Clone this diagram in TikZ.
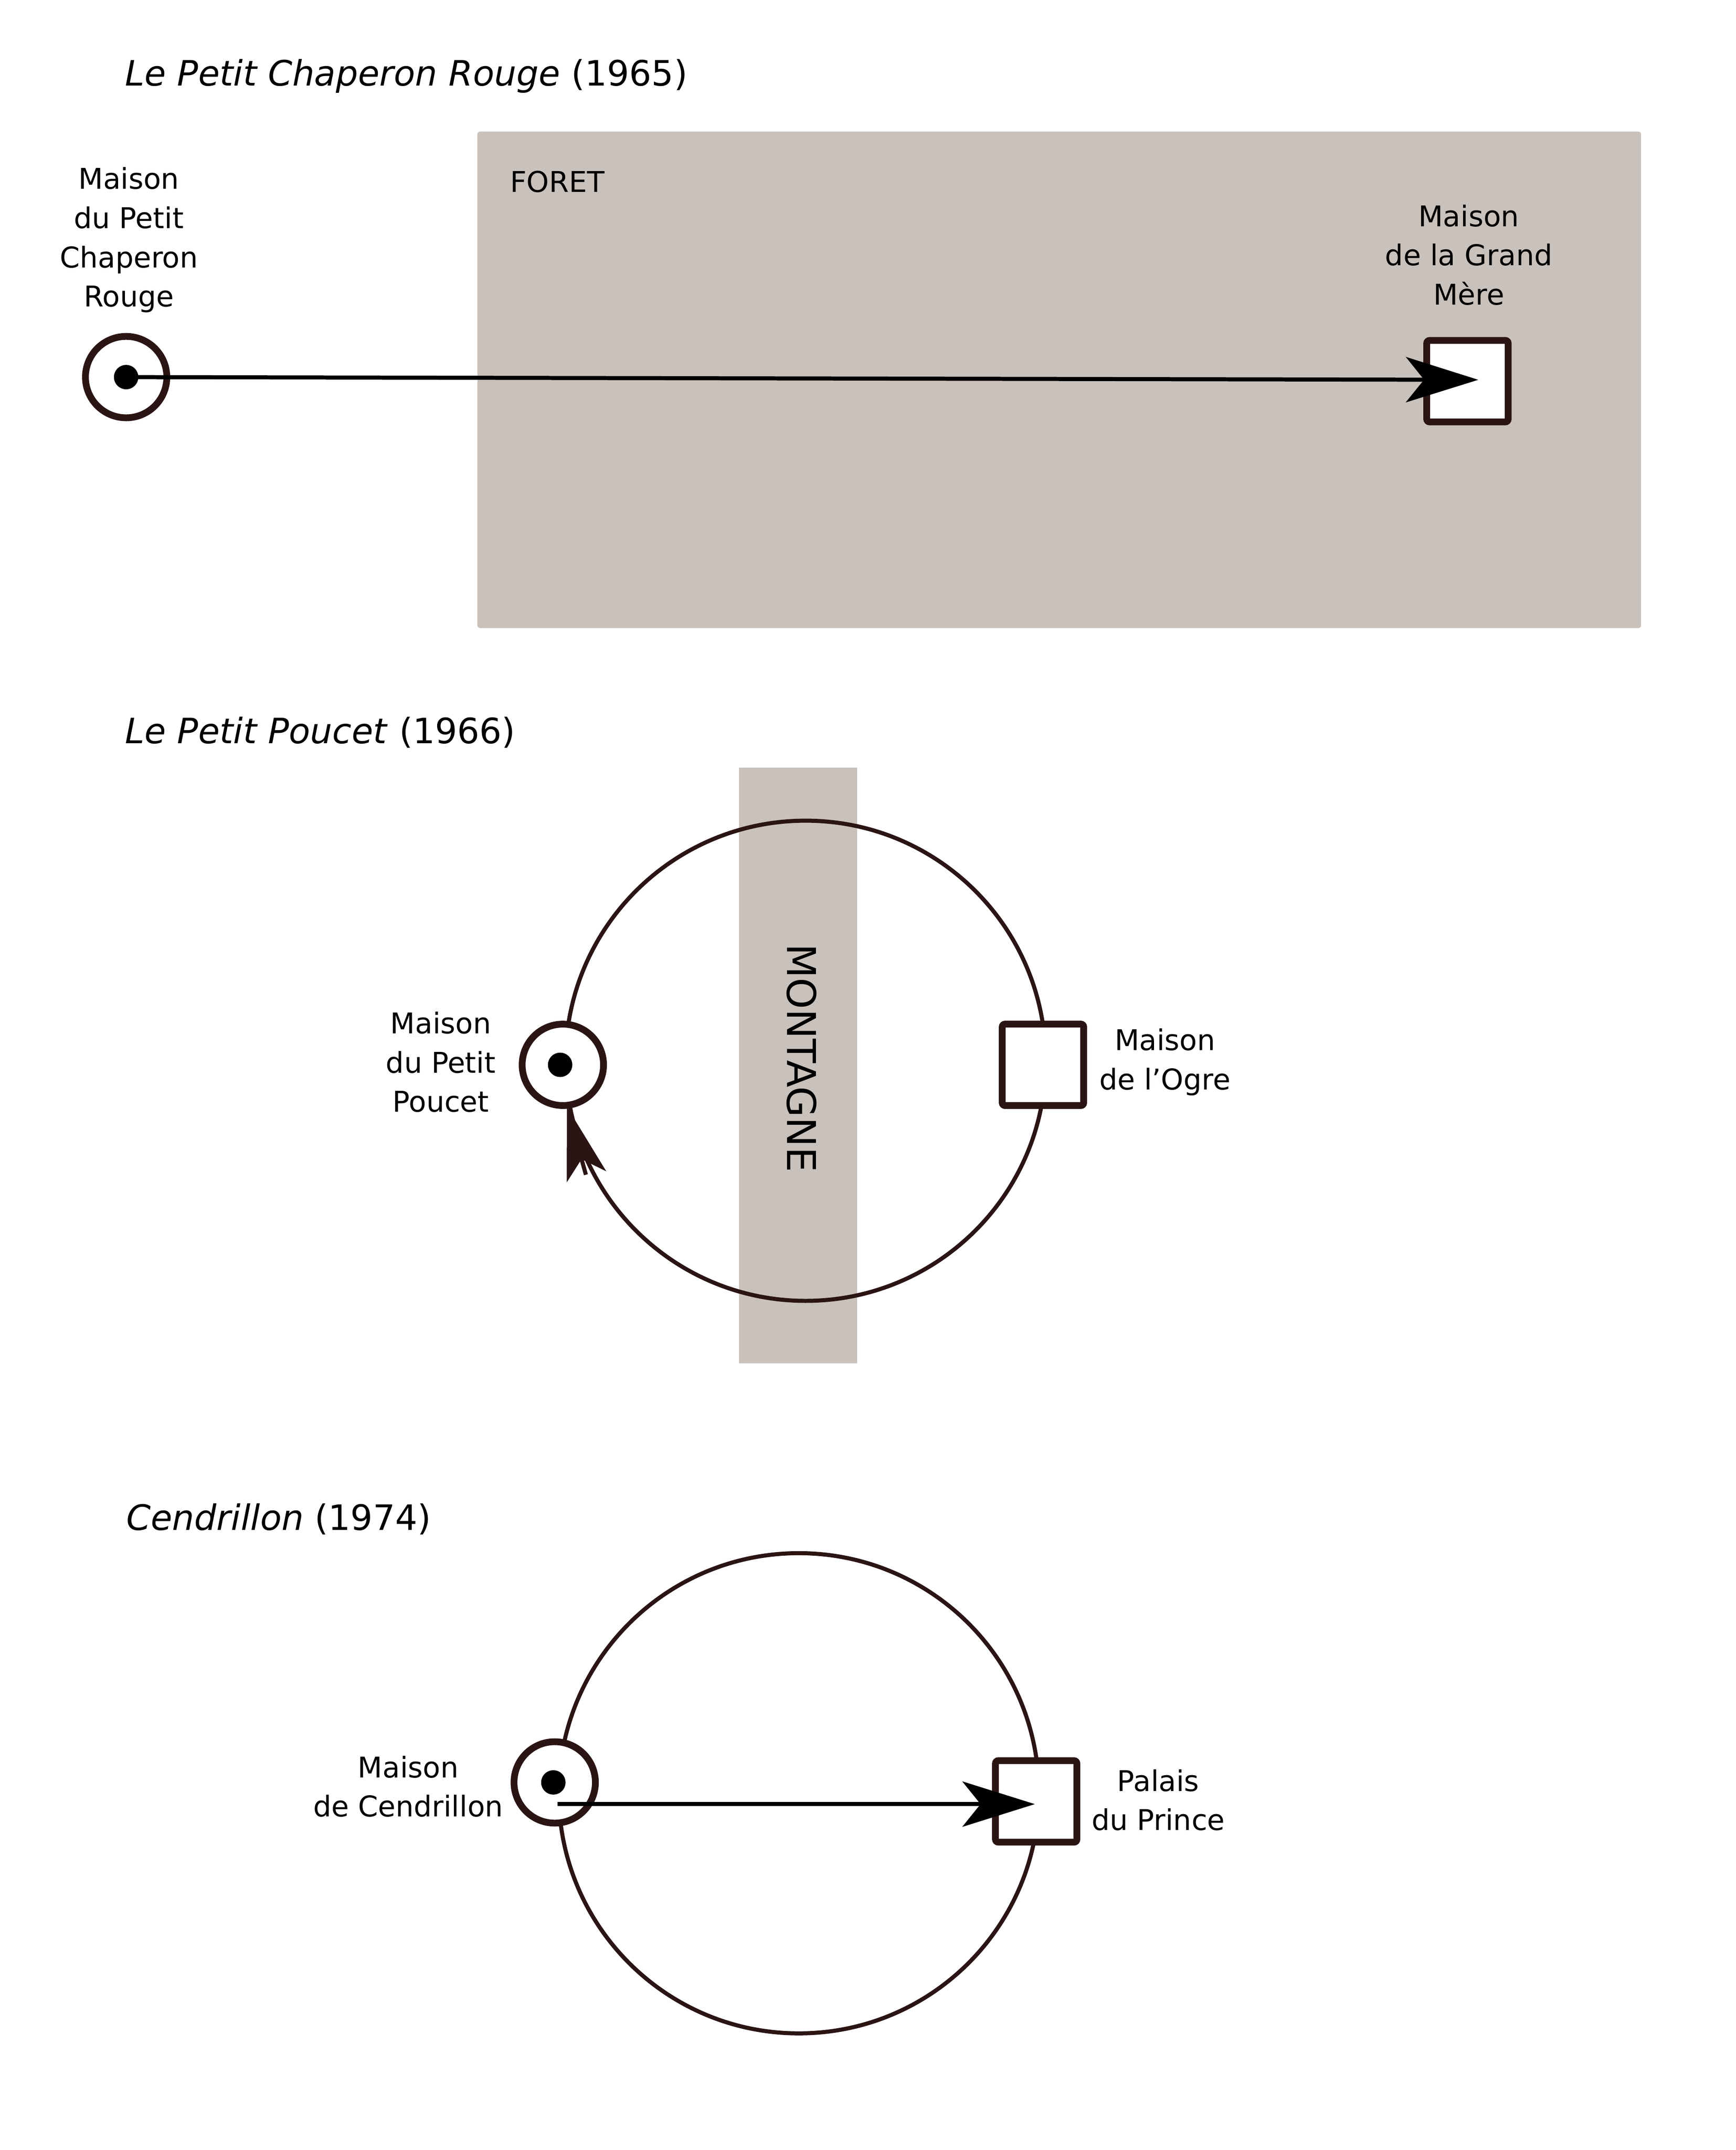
\documentclass[tikz,border=0pt]{standalone}
\usepackage{fontspec}
\setmainfont{DejaVu Sans}
\usetikzlibrary{arrows.meta}
\definecolor{dk}{HTML}{2B1414}
\definecolor{zone}{HTML}{C9C1BB}
\begin{document}
\begin{tikzpicture}[x=0.3mm,y=-0.3mm,
  lbl/.style={font=\fontsize{18}{24.7}\selectfont,align=center,inner sep=0pt},
  ttl/.style={font=\fontsize{22}{26}\selectfont,anchor=west,inner sep=0pt},
  home/.style={circle,draw=dk,line width=1.5mm,minimum size=18mm,inner sep=0pt,fill=white},
  dest/.style={rectangle,rounded corners=0.6mm,draw=dk,line width=1.5mm,minimum size=18mm,inner sep=0pt,fill=white},
  dot/.style={circle,fill=black,minimum size=5.4mm,inner sep=0pt},
  route/.style={line width=0.9mm,-{Stealth[length=16mm,width=10mm,inset=4mm]}},
  ring/.style={draw=dk,line width=0.9mm}]
\useasboundingbox[fill=white] (0,0) rectangle (1280,1585);
% ---- 1
\node[ttl] (t1) at (92,56) {\textit{Le Petit Chaperon Rouge} (1965)};
\fill[zone,rounded corners=0.6mm] (352,97) rectangle (1210,463);
\node[lbl,anchor=west] (foret) at (376,134) {FORET};
\node[home] (h1) at (93,278) {};
\node[dot] (d1) at (93,278) {};
\node[dest] (s1) at (1082,281) {};
\coordinate (e1) at (1090,280);
\draw[route] (d1.center) -- (e1);
\node[lbl] (l1) at (95,177) {Maison\\du Petit\\Chaperon\\Rouge};
\node[lbl] (l2) at (1083,188) {Maison\\de la Grand\\Mère};
% ---- 2
\node[ttl] (t2) at (92,540) {\textit{Le Petit Poucet} (1966)};
\fill[zone] (545,566) rectangle (632,1005);
\node[font=\fontsize{25}{30}\selectfont,rotate=-90,inner sep=0pt] (mt) at (591,780) {MONTAGNE};
\node[circle,ring,minimum size=106.2mm,inner sep=0pt] (c2) at (594,782) {};
\node[home] (h2) at (415,785) {};
\node[dot] (d2) at (413,785) {};
\node[dest] (s2) at (769,785) {};
\coordinate (a2s) at (432,866);
\coordinate (a2e) at (418,816);
\draw[route,draw=dk,-{Stealth[length=16mm,width=9mm,inset=4mm]}] (a2s) -- (a2e);
\node[lbl] (l3) at (325,783) {Maison\\du Petit\\Poucet};
\node[lbl] (l4) at (859,783) {Maison\\de l'Ogre};
% ---- 3
\node[ttl] (t3) at (93,1120) {\textit{Cendrillon} (1974)};
\node[circle,ring,minimum size=106.2mm,inner sep=0pt] (c3) at (589,1322) {};
\node[home] (h3) at (409,1314) {};
\node[dot] (d3) at (408,1314) {};
\node[dest] (s3) at (764,1328) {};
\coordinate (b3) at (411,1330);
\coordinate (e3) at (763,1330);
\draw[route] (b3) -- (e3);
\node[lbl] (l5) at (301,1317) {Maison\\de Cendrillon};
\node[lbl] (l6) at (854,1327) {Palais\\du Prince};
\end{tikzpicture}
\end{document}
